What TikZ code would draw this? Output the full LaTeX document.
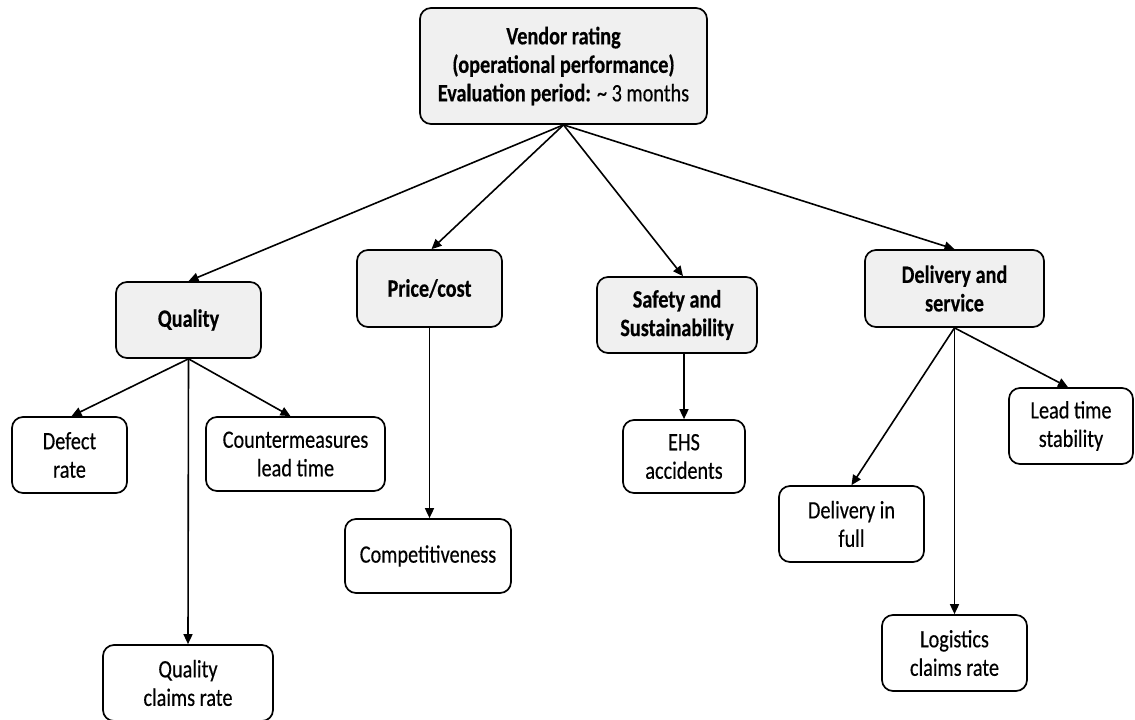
\documentclass[tikz,border=0pt]{standalone}
\usepackage{fontspec}
\setmainfont{Carlito}[FakeStretch=0.81, FakeBold=0.35, BoldFeatures={FakeBold=0.35}]
\usetikzlibrary{arrows.meta}
\begin{document}
\begin{tikzpicture}[x=1pt,y=-1pt,
  box/.style={draw=black, line width=1.7pt, rounded corners=11pt, align=center,
    inner sep=0pt, font=\fontsize{25}{28.5}\selectfont},
  parent/.style={box, fill=gray!12, font=\fontsize{25}{28.5}\selectfont\bfseries},
  leaf/.style={box, fill=white},
  link/.style={line width=1.6pt, -{Triangle[length=10pt,width=9pt]}}]
\useasboundingbox (0,0) rectangle (1135,720);

% root
\node[parent, minimum width=287pt, minimum height=116pt] (root) at (563.5,66)
  {Vendor rating\\(operational performance)\\Evaluation period: {\mdseries\textasciitilde\ 3 months}};

% categories
\node[parent, minimum width=145pt, minimum height=76pt] (quality) at (188.5,320) {Quality};
\node[parent, minimum width=145pt, minimum height=77pt] (price) at (429.5,288.5) {Price/cost};
\node[parent, minimum width=160pt, minimum height=76pt] (safety) at (677,315) {Safety and\\Sustainability};
\node[parent, minimum width=179pt, minimum height=77pt] (delivery) at (954.5,288.5) {Delivery and\\service};

% indicators
\node[leaf, minimum width=115pt, minimum height=76pt] (defect) at (69.5,455) {Defect\\rate};
\node[leaf, minimum width=179pt, minimum height=74pt] (counter) at (295.5,454) {Countermeasures\\lead time};
\node[leaf, minimum width=170pt, minimum height=76pt] (qclaims) at (188,683) {Quality\\claims rate};
\node[leaf, minimum width=166pt, minimum height=74pt] (compet) at (428,556) {Competitiveness};
\node[leaf, minimum width=122pt, minimum height=73pt] (ehs) at (684,456.5) {EHS\\accidents};
\node[leaf, minimum width=145pt, minimum height=76pt] (dif) at (851.5,524) {Delivery in\\full};
\node[leaf, minimum width=145pt, minimum height=76pt] (lclaims) at (954.5,653) {Logistics\\claims rate};
\node[leaf, minimum width=124pt, minimum height=76pt] (lts) at (1071,426) {Lead time\\stability};

% root to categories
\draw[link] (root.south) -- (quality.north);
\draw[link] (root.south) -- ([xshift=2pt]price.north);
\draw[link] (root.south) -- ([xshift=6pt]safety.north);
\draw[link] (root.south) -- (delivery.north);

% quality
\draw[link] (quality.south) -- ([xshift=2pt]defect.north);
\draw[link] (quality.south) -- ([xshift=-5pt]counter.north);
\draw[link] (quality.south) -- (qclaims.north);

% price/cost
\draw[link] (price.south) -- (price.south |- compet.north);

% safety
\draw[link] ([xshift=7pt]safety.south) -- (ehs.north);

% delivery
\draw[link] (delivery.south) -- (dif.north);
\draw[link] (delivery.south) -- (lclaims.north);
\draw[link] (delivery.south) -- ([xshift=-3pt]lts.north);
\end{tikzpicture}
\end{document}
